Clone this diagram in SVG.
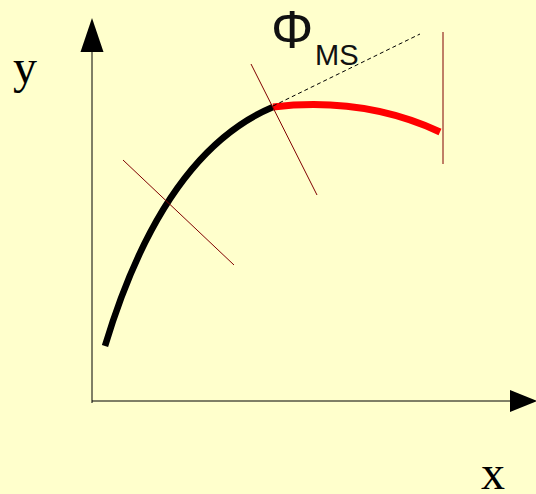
<svg xmlns="http://www.w3.org/2000/svg" width="536" height="494" viewBox="0 0 536 494">
<style>
.axis{stroke:#000;stroke-width:1;fill:none}
.head{fill:#000}
.thin{stroke:#800000;stroke-width:1;fill:none}
.lbl{font-family:"Liberation Serif",serif;fill:#000}
.sym{font-family:"Liberation Sans",Arial,sans-serif;fill:#111}
</style>
<rect width="536" height="494" fill="#FFFFCC"/>
<g id="axes">
<line class="axis" x1="92" y1="403" x2="92" y2="50"/>
<polygon class="head" points="92,18 80.5,52 103.5,52"/>
<line class="axis" x1="92" y1="401" x2="512" y2="401"/>
<polygon class="head" points="537,401 510,390 510,412"/>
</g>
<g id="curves">
<path d="M105,346 Q163,153.5 273,107" stroke="#000" stroke-width="6.5" fill="none"/>
<path d="M273,107 Q363.5,96.5 440,132" stroke="#FF0000" stroke-width="7" fill="none"/>
</g>
<g id="connectors">
<line class="thin" x1="123" y1="160" x2="234" y2="265"/>
<line class="thin" x1="251" y1="64" x2="317" y2="195"/>
<line class="thin" x1="443" y1="32" x2="443" y2="164"/>
<line x1="273" y1="106" x2="420" y2="34" stroke="#000" stroke-width="1" stroke-dasharray="4,3"/>
</g>
<g id="labels">
<text class="lbl" x="13" y="83" font-size="48">y</text>
<text class="lbl" x="481" y="489" font-size="48">x</text>
<text class="sym" x="271" y="48" font-size="53">Φ</text>
<text class="sym" x="315" y="65" font-size="29">MS</text>
</g>
</svg>
